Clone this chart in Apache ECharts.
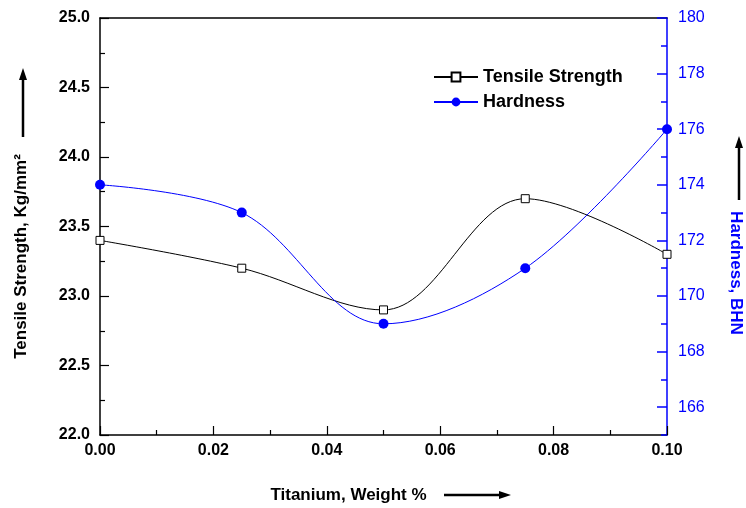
<!DOCTYPE html>
<html><head><meta charset="utf-8">
<script src="https://cdn.jsdelivr.net/npm/echarts@6/dist/echarts.min.js"></script>
<style>html,body{margin:0;padding:0;background:#fff}#c{width:746px;height:508px}</style>
</head><body><div id="c"></div>
<script>
const titanium = [0.0, 0.025, 0.05, 0.075, 0.1];
const tensile = [23.4, 23.2, 22.9, 23.7, 23.3];
const hardness = [174, 173, 169, 171, 176];
const hardnessLabels = [166, 168, 170, 172, 174, 176, 178, 180];

const F = 'Liberation Sans, Arial, sans-serif';
const BLUE = '#0000ff';
const chart = echarts.init(document.getElementById('c'));
chart.setOption({
  animation: false,
  backgroundColor: '#fff',
  grid: {left: 100, right: 79, top: 18, bottom: 73, outerBoundsMode: 'none', containLabel: false},
  legend: {
    orient: 'vertical', left: 428, top: 63, itemGap: 7, itemWidth: 44, itemHeight: 11,
    textStyle: {fontFamily: F, fontWeight: 'bold', fontSize: 18, color: '#000'},
    data: ['Tensile Strength', 'Hardness']
  },
  xAxis: [{
    type: 'value', min: 0, max: 0.1, interval: 0.02, position: 'bottom',
    name: 'Titanium, Weight %', nameLocation: 'middle', nameGap: 52,
    nameTextStyle: {fontFamily: F, fontWeight: 'bold', fontSize: 17, color: '#000', padding: [0, 70, 0, 0]},
    axisLine: {onZero: false, lineStyle: {color: '#000', width: 1.5}},
    axisTick: {inside: true, length: 9, lineStyle: {color: '#000', width: 1.2}},
    minorTick: {show: true, splitNumber: 2, length: 5, lineStyle: {color: '#000', width: 1.2}},
    axisLabel: {fontFamily: F, fontWeight: 'bold', fontSize: 16, color: '#000', margin: 8,
      formatter: v => v.toFixed(2)},
    splitLine: {show: false}
  }, {
    type: 'value', min: 0, max: 0.1, position: 'top',
    axisLine: {onZero: false, lineStyle: {color: '#000', width: 1.5}},
    axisTick: {show: false}, axisLabel: {show: false}, splitLine: {show: false}
  }],
  yAxis: [{
    type: 'value', min: 22, max: 25, interval: 0.5, position: 'left',
    name: 'Tensile Strength, Kg/mm²', nameLocation: 'middle', nameGap: 70, nameRotate: 90,
    nameTextStyle: {fontFamily: F, fontWeight: 'bold', fontSize: 17, color: '#000', padding: [0, 60, 0, 0]},
    axisLine: {show: true, onZero: false, lineStyle: {color: '#000', width: 1.5}},
    axisTick: {inside: true, length: 9, lineStyle: {color: '#000', width: 1.2}},
    minorTick: {show: true, splitNumber: 2, length: 5, lineStyle: {color: '#000', width: 1.2}},
    axisLabel: {fontFamily: F, fontWeight: 'bold', fontSize: 16, color: '#000', margin: 10,
      formatter: v => v.toFixed(1)},
    splitLine: {show: false}
  }, {
    type: 'value', min: 165, max: 180, position: 'right',
    name: 'Hardness, BHN', nameLocation: 'middle', nameGap: 60, nameRotate: -90,
    nameTextStyle: {fontFamily: F, fontWeight: 'bold', fontSize: 17, color: BLUE, padding: [0, 0, 0, 93]},
    axisLine: {show: true, onZero: false, lineStyle: {color: BLUE, width: 1.5}},
    axisTick: {show: true, inside: true, length: 10, customValues: hardnessLabels, lineStyle: {color: BLUE, width: 1.5}},
    axisLabel: {fontFamily: F, fontSize: 16, color: BLUE, margin: 11, customValues: hardnessLabels},
    splitLine: {show: false}
  }, {
    type: 'value', min: 165, max: 180, interval: 1, position: 'right', offset: 0,
    axisLine: {show: false, onZero: false},
    axisTick: {show: true, inside: true, length: 6, lineStyle: {color: BLUE, width: 1.5}},
    axisLabel: {show: false}, splitLine: {show: false}
  }],
  graphic: [
    {type: 'line', shape: {x1: 23, y1: 137, x2: 23, y2: 78}, style: {stroke: '#000', lineWidth: 2.5}},
    {type: 'polygon', shape: {points: [[23, 68], [19, 80], [27, 80]]}, style: {fill: '#000'}},
    {type: 'line', shape: {x1: 739, y1: 200, x2: 739, y2: 146}, style: {stroke: '#000', lineWidth: 2.5}},
    {type: 'polygon', shape: {points: [[739, 136], [735, 148], [743, 148]]}, style: {fill: '#000'}},
    {type: 'line', shape: {x1: 444, y1: 495, x2: 500, y2: 495}, style: {stroke: '#000', lineWidth: 2.5}},
    {type: 'polygon', shape: {points: [[511, 495], [499, 491], [499, 499]]}, style: {fill: '#000'}}
  ],
  series: [{
    name: 'Tensile Strength', type: 'line', xAxisIndex: 0, yAxisIndex: 0,
    data: titanium.map((x, i) => [x, tensile[i]]),
    smooth: 0.35, symbol: 'rect', symbolSize: 8, showAllSymbol: true,
    itemStyle: {color: '#fff', borderColor: '#000', borderWidth: 1},
    lineStyle: {color: '#000', width: 1}, color: '#000'
  }, {
    name: 'Hardness', type: 'line', xAxisIndex: 0, yAxisIndex: 1,
    data: titanium.map((x, i) => [x, hardness[i]]),
    smooth: 0.35, symbol: 'circle', symbolSize: 10,
    itemStyle: {color: BLUE}, lineStyle: {color: BLUE, width: 1}, color: BLUE
  }]
});
</script></body></html>
